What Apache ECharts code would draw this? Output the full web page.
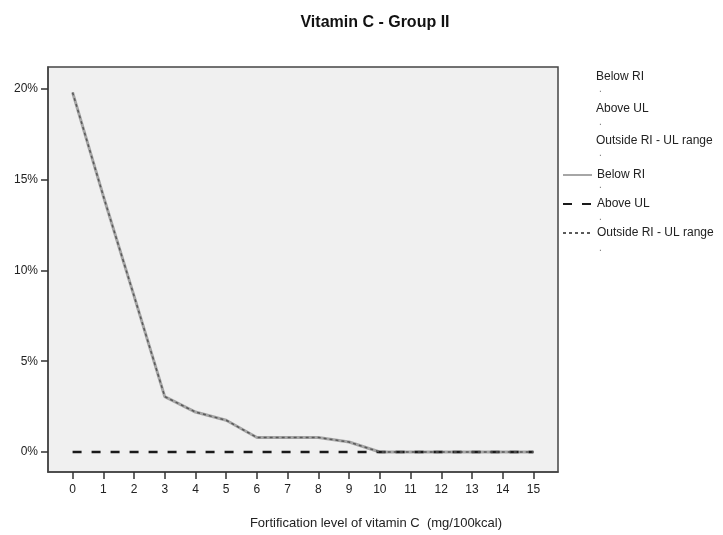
<!DOCTYPE html>
<html>
<head>
<meta charset="utf-8">
<script src="https://cdn.jsdelivr.net/npm/echarts@6/dist/echarts.min.js"></script>
<style>html,body{margin:0;padding:0;background:#fff}#chart{width:723px;height:535px}</style>
</head>
<body>
<div id="chart"></div>
<script>
var levels = [0,1,2,3,4,5,6,7,8,9,10,11,12,13,14,15];
var belowRI = [19.8,14.1,8.6,3.05,2.2,1.75,0.8,0.8,0.8,0.55,0,0,0,0,0,0];
var aboveUL = [0,0,0,0,0,0,0,0,0,0,0,0,0,0,0,0];
var outsideRange = [19.8,14.1,8.6,3.05,2.2,1.75,0.8,0.8,0.8,0.55,0,0,0,0,0,0];
var yTicks = [0,5,10,15,20];
var xTicks = [0,1,2,3,4,5,6,7,8,9,10,11,12,13,14,15];
var legendNames = ['Below RI','Above UL','Outside RI - UL range'];

function pairs(ys){ return levels.map(function(x,i){ return [x, ys[i]]; }); }

var FONT = '"Liberation Sans", Arial, sans-serif';
var chart = echarts.init(document.getElementById('chart'), null, {renderer:'canvas'});

var graphics = [];
var textYs = [78, 110, 142];
legendNames.forEach(function(n, i){
  graphics.push({type:'text', left:596, top:textYs[i]-7, style:{text:n, font:'12px '+FONT, fill:'#222'}});
});
[93,126,157,189,221,252].forEach(function(y){
  graphics.push({type:'text', left:599, top:y-9, style:{text:'.', font:'10px '+FONT, fill:'#777'}});
});

chart.setOption({
  animation:false,
  backgroundColor:'#ffffff',
  title:[
    {text:'Vitamin C - Group II', left:370, top:10, textAlign:'center',
     textStyle:{fontFamily:FONT, fontSize:16, fontWeight:'bold', color:'#111'}},
    {text:'Fortification level of vitamin C  (mg/100kcal)', left:371, top:512, textAlign:'center',
     textStyle:{fontFamily:FONT, fontSize:13, fontWeight:'normal', color:'#222'}}
  ],
  grid:{left:48, top:67, width:510, height:405, show:true, backgroundColor:'#f0f0f0',
        borderColor:'#444', borderWidth:1.5, containLabel:false},
  legend:{
    orient:'vertical', left:562, top:169, padding:0, itemWidth:29, itemHeight:14, itemGap:17,
    data:legendNames, selectedMode:false,
    itemStyle:{opacity:0, borderWidth:0},
    textStyle:{fontFamily:FONT, fontSize:12, color:'#222'}
  },
  graphic:graphics,
  xAxis:{
    type:'value', min:-0.8, max:15.8,
    axisLine:{show:true, onZero:false, lineStyle:{color:'#444', width:1.5}},
    axisTick:{show:true, length:7, customValues:xTicks, lineStyle:{color:'#333', width:1.5}},
    axisLabel:{customValues:xTicks, margin:12, fontFamily:FONT, fontSize:12, color:'#222'},
    splitLine:{show:false}
  },
  yAxis:{
    type:'value', min:-1.1, max:21.2,
    axisLine:{show:true, onZero:false, lineStyle:{color:'#444', width:1.5}},
    axisTick:{show:true, length:7, customValues:yTicks, lineStyle:{color:'#333', width:1.5}},
    axisLabel:{customValues:yTicks, margin:10, fontFamily:FONT, fontSize:12, color:'#222',
               formatter:function(v){ return v + '%'; }},
    splitLine:{show:false}
  },
  series:[
    {name:'Below RI', type:'line', data:pairs(belowRI), symbol:'none',
     lineStyle:{color:'#a6a6a6', width:3, type:'solid'}, itemStyle:{color:'#a6a6a6'}, z:2},
    {name:'Above UL', type:'line', data:pairs(aboveUL), symbol:'none',
     lineStyle:{color:'#1a1a1a', width:2.5, type:[9,10]}, itemStyle:{color:'#1a1a1a'}, z:3},
    {name:'Outside RI - UL range', type:'line', data:pairs(outsideRange), symbol:'none',
     lineStyle:{color:'#5a5a5a', width:1.5, type:[3,3]}, itemStyle:{color:'#8a8a8a'}, z:4}
  ]
});
</script>
</body>
</html>
